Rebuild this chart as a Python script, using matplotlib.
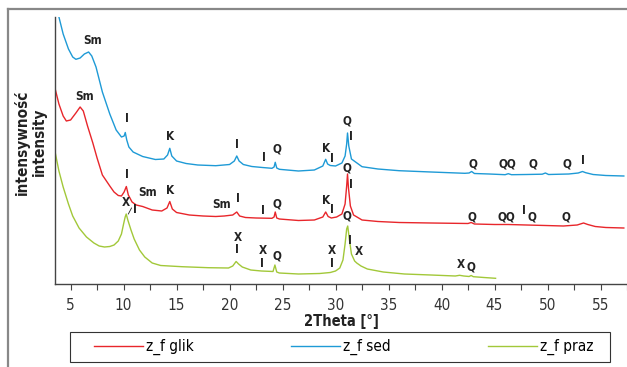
import matplotlib
matplotlib.use("Agg")
from matplotlib import pyplot as plt
from matplotlib.lines import Line2D
from matplotlib.patches import Rectangle

plt.rcParams['font.family'] = ['DejaVu Sans']
plt.rcParams['font.stretch'] = 'condensed'

# 2Theta / intensity (arbitrary units)
sed_x = [3.9, 4.3, 4.8, 5.2, 5.5, 5.9, 6.3, 6.7, 7.0, 7.4, 8.0, 8.7, 9.3, 9.8, 10.05, 10.16, 10.3,
         10.5, 10.9, 11.8, 13.0, 13.8, 14.15, 14.36, 14.55, 15.0, 15.9, 17.0, 18.7, 20.0, 20.45,
         20.68, 20.9, 21.3, 22.1, 23.1, 24.0, 24.2, 24.31, 24.45, 24.7, 26.5, 28.0, 28.8, 29.07,
         29.25, 29.5, 30.0, 30.6, 30.9, 31.05, 31.13, 31.25, 31.5, 32.5, 34.0, 36.0, 39.0, 42.2,
         42.6, 42.84, 43.1, 44.5, 46.0, 46.3, 46.6, 48.0, 49.5, 49.8, 50.1, 52.0, 52.9, 53.3,
         53.6, 54.3, 55.5, 57.2]
sed_y = [267, 250, 235, 227, 224.7, 226, 230, 232, 228, 217, 192, 170, 154, 147, 148, 151.5, 144,
         137, 132, 127.5, 124.5, 125, 129, 135.7, 128, 123, 120.5, 119, 118.3, 119.5, 123,
         128, 123, 119.5, 117.5, 116.5, 115.7, 117, 121.7, 116, 114.7, 113, 114, 118, 124.7,
         120, 118.5, 118, 121, 128, 140, 151, 138, 125, 117.3, 115, 113.3, 112, 110.7,
         111, 112.5, 110.5, 110, 109.3, 110.3, 109.3, 109.5, 109.8, 111, 109.5, 110, 111, 112.5,
         111.3, 109.5, 108.5, 108]

glik_x = [3.5, 3.9, 4.3, 4.6, 5.0, 5.5, 5.9, 6.2, 6.6, 7.1, 7.5, 8.0, 8.7, 9.1, 9.5, 9.8, 10.05,
          10.26, 10.45, 10.8, 11.2, 11.8, 12.7, 13.6, 14.1, 14.36, 14.6, 15.0, 16.2, 17.5, 18.7,
          19.5, 20.3, 20.68, 20.95, 21.5, 22.5, 24.0, 24.2, 24.31, 24.45, 24.7, 26.5, 28.0, 28.8,
          29.07, 29.3, 29.6, 30.1, 30.6, 30.9, 31.05, 31.13, 31.22, 31.4, 31.7, 32.5, 34.0, 36.0,
          39.0, 42.5, 42.8, 43.1, 45.0, 46.3, 48.0, 49.8, 51.5, 52.8, 53.4, 53.8, 54.5, 55.5, 57.2]
glik_y = [197, 180, 168, 163, 164, 171, 177, 173, 158, 141, 126, 109, 98, 92, 88.5, 88, 92,
          97.5, 89, 82, 79, 77.5, 74, 73, 76, 82.5, 75, 71.5, 69, 68, 67.5,
          68, 69, 72, 68, 66.5, 66, 65.7, 67, 72, 66, 65, 63.5, 64, 67,
          72, 67.5, 66, 67, 70, 80, 98, 110, 96, 78, 69, 64, 62.5, 61.5,
          61, 60.5, 61.5, 60, 59.5, 59.5, 59, 58.5, 58, 59, 61, 59.5, 57.5, 56.5, 56]

praz_x = [3.5, 3.9, 4.3, 4.8, 5.2, 5.8, 6.5, 7.2, 7.7, 8.2, 8.7, 9.1, 9.5, 9.8, 10.0, 10.15, 10.25,
          10.4, 10.7, 11.0, 11.5, 12.0, 12.7, 13.5, 15.5, 18.0, 19.9, 20.3, 20.62, 20.85, 21.2,
          22.0, 23.0, 24.1, 24.28, 24.45, 24.7, 26.5, 28.5, 29.5, 30.0, 30.4, 30.7, 30.9, 31.05,
          31.15, 31.3, 31.5, 31.8, 32.0, 32.4, 33.0, 34.5, 36.5, 39.0, 41.3, 41.7, 42.1, 42.6,
          42.8, 43.0, 44.0, 45.1]
praz_y = [134, 113, 97, 80, 68, 56, 47, 41, 38, 37, 37.5, 39, 43, 50, 60, 67, 70,
          64, 54, 45, 34, 27, 21, 18.5, 17.3, 16.3, 16, 18, 22.5, 20, 17,
          14, 13, 12.5, 19, 12, 11, 10, 10.5, 11.5, 13, 16, 24, 40, 55,
          58, 45, 30, 23, 21, 18, 15, 12, 10, 9, 8, 8.7, 8, 7.5,
          8.5, 7.3, 6.5, 5.7]

# phase labels: (text, 2Theta, intensity)
sed_labels = [("Sm", 7.12, 244), ("I", 10.31, 165.7), ("K", 14.40, 147.3), ("I", 20.71, 140),
              ("I", 23.22, 126.7), ("Q", 24.46, 134.7), ("K", 29.15, 135.7), ("I", 29.62, 125.7),
              ("Q", 31.12, 163.3), ("I", 31.44, 148), ("Q", 42.97, 120), ("QQ", 46.2, 120),
              ("Q", 48.6, 120), ("Q", 51.88, 120), ("I", 53.38, 124)]
glik_labels = [("Sm", 6.34, 188), ("I", 10.34, 109), ("Sm", 12.28, 91.7), ("K", 14.40, 94),
               ("Sm", 19.25, 80), ("I", 20.81, 85.7), ("I", 23.15, 74), ("Q", 24.46, 80),
               ("K", 29.15, 84), ("I", 29.62, 74.7), ("Q", 31.12, 116), ("I", 31.44, 99),
               ("Q", 42.84, 67.3), ("QQ", 46.12, 67.3), ("I", 47.75, 74), ("Q", 48.53, 67.3),
               ("Q", 51.75, 67.3)]
praz_labels = [("X", 10.18, 81.7), ("I", 11.09, 74.7), ("X", 20.81, 46.7), ("I", 20.71, 34.7),
               ("X", 23.15, 33), ("I", 23.06, 20.7), ("Q", 24.46, 28), ("X", 29.62, 34),
               ("I", 29.62, 20.7), ("Q", 31.12, 68.3), ("I", 31.4, 43.3), ("X", 32.19, 32.3),
               ("X", 41.87, 19), ("Q", 42.81, 17.3)]

red = "#e8262b"
blue = "#1e9ad6"
green = "#a2c839"

fig = plt.figure(figsize=(6.27, 3.67), dpi=100)
ax = fig.add_axes([55 / 627, 1 - 284 / 367, 1 - 55 / 627, (284 - 17) / 367])

l1, = ax.plot(glik_x, glik_y, color=red, lw=1)
l2, = ax.plot(sed_x, sed_y, color=blue, lw=1)
l3, = ax.plot(praz_x, praz_y, color=green, lw=1)

for lab in sed_labels + glik_labels + praz_labels:
    ax.text(lab[1], lab[2], lab[0], ha='center', va='center', fontsize=8.5, fontweight='bold',
            color='#222222')
# small leader between X and I near 10 deg
ax.plot([10.45, 10.75], [70, 76], color='#222222', lw=0.6)

ax.set_xlim(3.53, 57.23)
ax.set_ylim(0, 267)
ax.set_xticks([5, 10, 15, 20, 25, 30, 35, 40, 45, 50, 55])
ax.set_xticks([7.5, 12.5, 17.5, 22.5, 27.5, 32.5, 37.5, 42.5, 47.5, 52.5, 57.5], minor=True)
ax.tick_params(axis='x', which='both', direction='out', length=4, width=0.8, color='#444444',
               labelsize=11, pad=6, labelcolor='#333333')
ax.set_yticks([])
for s in ['top', 'right']:
    ax.spines[s].set_visible(False)
for s in ['left', 'bottom']:
    ax.spines[s].set_color('#444444')
    ax.spines[s].set_linewidth(1)
ax.set_xlabel("2Theta [°]", fontsize=10.5, fontweight='bold', labelpad=1, color='#222222')

fig.text(22 / 627, 1 - 142 / 367, "intensywność", rotation=90, ha='center', va='center',
         fontsize=11, fontweight='bold', color='#222222')
fig.text(39 / 627, 1 - 142 / 367, "intensity", rotation=90, ha='center', va='center',
         fontsize=11, fontweight='bold', color='#222222')

# outer frame
fig.add_artist(Line2D([8 / 627, 1], [1 - 8.5 / 367, 1 - 8.5 / 367], color='#888888', lw=1.6))
fig.add_artist(Line2D([8 / 627, 8 / 627], [0, 1 - 8.5 / 367], color='#888888', lw=1.6))

# legend box drawn separately so the entries can sit inset from it
fig.add_artist(Rectangle((70 / 627, 1 - 362 / 367), 540 / 627, 30 / 367, transform=fig.transFigure,
                         facecolor='none', edgecolor='#333333', lw=0.8))
leg = fig.legend([l1, l2, l3], ["z_f glik", "z_f sed", "z_f praz"], loc='center',
                 bbox_to_anchor=(86 / 627, 1 - 362 / 367, 515 / 627, 30 / 367), mode='expand',
                 ncol=3, fontsize=11, frameon=False, handlelength=3.2,
                 handletextpad=0.2, borderaxespad=0, borderpad=0.5)

fig.savefig("out.png", dpi=100)
